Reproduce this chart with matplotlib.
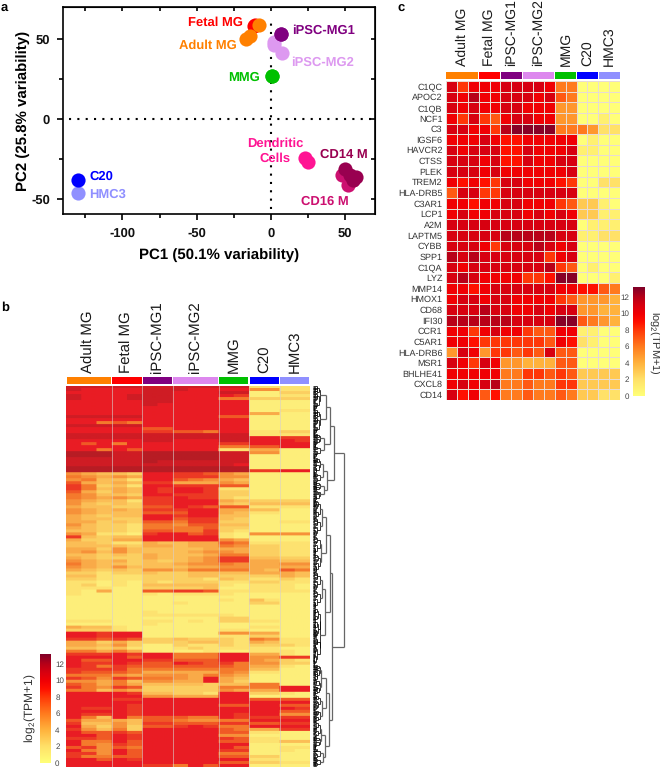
import matplotlib
matplotlib.use("Agg")
import matplotlib.pyplot as plt
import numpy as np
from matplotlib.colors import LinearSegmentedColormap
from matplotlib.collections import LineCollection

plt.rcParams['font.family'] = ['Liberation Sans', 'DejaVu Sans']
plt.rcParams['mathtext.default'] = 'regular'
plt.rcParams['text.hinting'] = 'no_hinting'
plt.rcParams['text.hinting_factor'] = 1
plt.rcParams['axes.unicode_minus'] = False

W, H = 660, 769

# ---------- data ----------
groups = ['Adult MG', 'Fetal MG', 'iPSC-MG1', 'iPSC-MG2', 'MMG', 'C20', 'HMC3']
group_sizes = [3, 2, 2, 3, 2, 2, 2]
group_colors = ['#ff8000', '#ff0000', '#800080', '#dd88ee', '#00c000', '#0000ff', '#9090ff']

pca_series = [
    ('Fetal MG', '#ff0000', [-11.5, -10.5], [58, 59]),
    ('Adult MG', '#ff8000', [-8, -14, -17], [59, 52, 50]),
    ('iPSC-MG2', '#dd99f0', [2, 2, 7.4], [48, 46, 41]),
    ('iPSC-MG1', '#800080', [6.7, 6.7], [53, 53]),
    ('MMG', '#00c000', [0.7, 0.7], [27, 27]),
    ('Dendritic', '#ff1493', [23, 24.7], [-24.6, -26.7]),
    ('CD16 M', '#cc1070', [48, 52, 55], [-35, -41, -38]),
    ('CD14 M', '#990050', [50, 57, 55, 53], [-31, -36, -38, -35]),
    ('HMC3', '#9090ff', [-130], [-46]),
    ('C20', '#0000ff', [-130], [-38]),
]
# label, colour, x, y, horizontal alignment
pca_labels = [
    ('Fetal MG', '#ff0000', -18.6, 60, 'right'),
    ('Adult MG', '#ff8000', -23, 46, 'right'),
    ('iPSC-MG1', '#800080', 14, 55.6, 'left'),
    ('iPSC-MG2', '#dd99f0', 13.5, 35, 'left'),
    ('MMG', '#00c000', -7.5, 26, 'right'),
    ('Dendritic\nCells', '#ff1493', 3, -20, 'center'),
    ('CD14 M', '#990050', 33, -22.5, 'left'),
    ('CD16 M', '#cc1070', 20, -51.7, 'left'),
    ('C20', '#0000ff', -122, -36, 'left'),
    ('HMC3', '#9090ff', -122.6, -47.5, 'left'),
]

genes_c = ['C1QC', 'APOC2', 'C1QB', 'NCF1', 'C3', 'IGSF6', 'HAVCR2', 'CTSS', 'PLEK', 'TREM2',
           'HLA-DRB5', 'C3AR1', 'LCP1', 'A2M', 'LAPTM5', 'CYBB', 'SPP1', 'C1QA', 'LYZ', 'MMP14',
           'HMOX1', 'CD68', 'IFI30', 'CCR1', 'C5AR1', 'HLA-DRB6', 'MSR1', 'BHLHE41', 'CXCL8', 'CD14']
# hex digit per cell = log2(TPM+1) rounded
values_c = [
    "b8a aa bb bba 66 00 00", "bac aa bb bab 76 00 00", "bab aa bb aaa 55 00 00",
    "a8b 87 ab baa 55 00 10", "bba a8 cd ddd 66 65 22", "aaa ba 99 aaa aa 01 00",
    "bab bb 99 baa ab 11 00", "bbb ab 99 baa bb 00 00", "bbb ab aa aaa ab 00 00",
    "a9a 98 bb aaa 98 00 22", "7bb 88 bb bbb bb 00 00", "aa9 aa bb aaa 87 33 10",
    "aba ab bb aba ba 33 11", "bbb bb bb bbb bb 01 11", "bbb bb cc ccc bb 11 22",
    "bbb a8 bb bcb ab 00 00", "cbc bb bb bb8 ab 00 00", "bab bb bb bbc 87 01 00",
    "bcb aa aa 889 dd 00 01", "aa9 ab bb bbb aa 99 76", "abb ab ba aaa 87 55 54",
    "bbb cb ba aba bb 55 44", "ccc cc cb bbb dd 76 54", "aa8 ab aa 877 aa 11 00",
    "aa9 88 88 887 a9 21 00", "5ba 58 87 87b 77 00 00", "ba8 ba 55 444 77 00 00",
    "aaa aa 66 887 87 33 33", "aba bc 66 766 88 33 33", "b9a 79 66 766 76 33 22",
]

values_b = [
    "bbb bb bb bbb bb 22 22", "baa aa bb baa aa 66 22", "aaa aa bb aaa bb 11 33",
    "baa ab bb aaa a9 11 22", "baa ab bb aaa 77 33 33", "aaa aa bb aaa aa 11 11",
    "aaa aa ba aaa aa 11 11", "aaa aa aa aaa aa 11 11", "aaa aa aa aaa aa 11 22",
    "aaa aa aa aaa aa 55 11", "bbb bb aa aaa 88 11 11", "aaa aa aa aaa aa 11 11",
    "aa7 87 aa aaa aa 11 11", "bbb bb aa aaa aa 11 11", "aaa aa 88 aaa aa 11 11",
    "aaa aa 99 887 aa 22 33", "bbb bb bb bbb bb 22 22", "bbb bb bb bbb bb aa 99",
    "aaa aa bb aaa bb aa a9", "a8a 7a aa aaa 99 aa aa", "aaa aa aa aaa 77 88 aa",
    "aa7 a8 aa aaa 22 55 11", "ccc bb cc ccc bb 66 11", "ccc bb cc ccc bb 11 11",
    "bbb bb cc ccc bb 11 11", "bbb bb cb bbb bb 11 11", "bbb bb bb bbb ba 11 11",
    "ccc cc cc ccc cc 11 11", "ccc cc cc ccc cc 99 aa",
    "654 43 aa 998 65 11 11", "765 65 aa 999 66 11 11", "674 42 aa 876 54 11 11",
    "854 54 99 555 65 11 11", "973 42 aa 999 88 11 11", "974 54 a9 aa9 22 11 11",
    "853 54 a9 aa9 33 11 11", "764 43 aa 999 33 11 11", "765 65 99 a99 32 11 11",
    "654 42 99 aaa 54 33 33", "643 43 99 aaa 43 44 44", "544 33 88 a98 88 22 22",
    "654 54 99 9aa 55 44 11", "654 44 88 8aa 54 22 11", "543 44 aa 9aa 44 11 11",
    "544 33 aa 899 43 11 11", "553 43 88 799 33 11 22", "643 32 77 688 44 11 11",
    "543 32 77 778 33 11 11", "443 32 88 779 32 11 11", "652 21 9a a89 21 66 66",
    "943 44 aa aaa 21 11 11", "533 55 aa aaa 65 11 11", "443 22 54 455 87 22 22",
    "444 43 55 455 76 33 22", "553 64 44 445 55 33 22", "564 64 44 456 65 33 22",
    "443 43 54 445 77 33 22", "543 33 54 456 99 44 33", "654 53 43 456 99 55 44",
    "754 43 44 566 76 55 66", "654 64 44 455 66 55 55", "543 43 66 577 77 54 87",
    "332 33 43 344 44 55 54", "442 22 33 344 33 33 54", "332 22 33 332 43 22 32",
    "221 21 32 333 22 33 22", "231 21 44 444 21 22 21", "222 11 33 334 11 22 21",
    "215 11 88 998 22 22 22", "211 11 21 222 21 11 11", "111 11 11 111 11 11 11",
    "111 11 11 111 21 42 11", "111 11 11 211 11 33 11", "111 11 11 111 11 11 11",
    "111 11 11 111 11 11 11", "111 11 21 111 11 11 11", "111 11 22 222 21 11 11",
    "111 11 11 111 33 11 11", "222 11 22 121 33 22 11", "111 11 21 111 11 11 11",
    "544 21 11 111 11 22 11", "333 21 11 111 22 11 11", "aa9 aa 11 111 66 55 11",
    "aa9 aa 11 111 22 33 11",
    "998 98 33 433 32 76 22", "553 53 33 344 32 54 22", "554 63 11 322 32 33 32",
    "443 42 11 232 22 22 11", "775 75 11 112 11 22 21", "999 a9 aa 777 aa 55 21",
    "aaa a8 aa 777 aa 66 99", "a88 aa 99 888 aa 65 32", "a99 a9 88 a98 97 66 33",
    "a97 98 88 888 87 55 21", "999 97 77 777 77 44 11", "988 87 55 555 76 22 11",
    "777 65 66 657 65 11 11", "986 98 77 65a 54 11 11", "665 74 66 55a 53 11 11",
    "875 75 44 443 44 77 11", "976 98 33 333 77 77 aa", "774 65 33 333 65 55 aa",
    "aaa a9 44 332 aa 33 21", "aaa aa 66 555 aa 11 11", "aaa 99 aa aaa aa 88 88",
    "aaa aa aa aaa aa aa aa", "aaa a9 aa aaa 88 aa 88", "a99 a9 aa aaa aa aa a9",
    "aaa a9 aa aaa aa aa 88", "a99 a9 aa aaa a9 aa 66", "a74 a7 88 877 a9 99 99",
    "855 54 88 766 77 aa aa", "944 64 99 888 99 88 99", "a53 63 88 9a9 77 aa aa",
    "964 73 aa aaa 87 55 99", "a88 98 aa aaa 88 22 11", "aa8 a9 aa aaa 66 11 11",
    "998 a9 aa aaa 98 22 11", "a77 a8 aa aaa 88 22 44", "a76 98 aa aaa aa 11 11",
    "896 87 aa aaa a8 11 22", "a76 a8 aa aaa 99 11 21", "996 a8 aa aaa 77 11 11",
    "977 88 aa aaa 88 33 11", "aa8 a9 aa aaa aa 22 11", "aaa aa aa aaa 88 33 22",
    "aaa aa 99 7a8 aa 11 11",
]

# row clustering of panel b: (merge height, upper child, lower child); an int is a cluster of that many rows
row_tree = (31,
            (20.5, (17, (13, 8, 8), (11, 4, 4)),
             (14, (10, 5, 3), (11, 3, 3))),
            (19, (16.5, (13, (9, 6, 6), (8, 6, 6)), (12, (9, 6, 6), (7, 10, 9))),
             (16, (13, (8, 5, 5), (9, 5, 4)), (12, (8, 5, 4), (10, 3, 3)))))


def parse(rows):
    return np.array([[int(ch, 16) for ch in r.replace(' ', '')] for r in rows], dtype=float)


def axpx(x0, y0, x1, y1, **kw):
    return fig.add_axes([x0 / W, 1 - y1 / H, (x1 - x0) / W, (y1 - y0) / H], **kw)


bar_cmap = LinearSegmentedColormap.from_list('tpm', [
    (0 / 13.2, '#ffff78'), (2 / 13.2, '#ffe068'), (4 / 13.2, '#ffb23c'), (6 / 13.2, '#ff7a1e'),
    (8 / 13.2, '#ff3808'), (9 / 13.2, '#ff1000'), (10 / 13.2, '#f00004'), (11 / 13.2, '#d80010'),
    (12 / 13.2, '#b80018'), (13.2 / 13.2, '#800028')])
heat_b_cmap = LinearSegmentedColormap.from_list('tpmb', [
    (0 / 13, '#fdf47e'), (1 / 13, '#fdee7a'), (2 / 13, '#fde270'), (3 / 13, '#fcd062'),
    (4 / 13, '#fbbe56'), (5 / 13, '#f9aa48'), (6 / 13, '#f7923a'), (7 / 13, '#f47a2c'),
    (8 / 13, '#f15a26'), (9 / 13, '#ed3a24'), (10 / 13, '#e91c24'), (11 / 13, '#d01c24'),
    (12 / 13, '#b81c24'), (13 / 13, '#a01c24')])

fig = plt.figure(figsize=(W / 100, H / 100), dpi=100)

# ---------- panel a ----------
ax = axpx(63, 7, 375, 214)
ax.set_xlim(-140, 70)
ax.set_ylim(-59.4, 70)
ax.plot([-136, 68], [0, 0], color='black', lw=1.5, ls=(0, (1, 3.0)), zorder=1)
ax.plot([0, 0], [-56, 62], color='black', lw=1.5, ls=(0, (1, 3.0)), zorder=1)
for name, col, xs, ys in pca_series:
    ax.scatter(xs, ys, s=104, color=col, linewidths=0, zorder=3)
for txt, col, x, y, ha in pca_labels:
    ax.text(x, y, txt, color=col, ha=ha, va='center', fontsize=9.5, fontweight='bold',
            linespacing=1.25, zorder=4)
ax.set_xticks([-100, -50, 0, 50])
ax.set_xticks([-125, -75, -25, 25], minor=True)
ax.set_yticks([-50, 0, 50])
ax.set_yticks([-25, 25], minor=True)
ax.tick_params(which='both', direction='out', width=1.2, bottom=True, left=True)
ax.tick_params(which='major', length=4.5, labelsize=9.6, pad=5)
ax.tick_params(which='minor', length=3)
for lab in ax.get_xticklabels() + ax.get_yticklabels():
    lab.set_fontweight('bold')
ax.tick_params(axis='both', which='both', labelcolor='#111111')
for s in ax.spines.values():
    s.set_linewidth(1.2)
ax.set_xlabel('PC1 (50.1% variability)', fontsize=10.8, fontweight='bold', labelpad=6)
ax.set_ylabel('PC2 (25.8% variability)', fontsize=10.8, fontweight='bold', labelpad=1)
twx = ax.secondary_xaxis('top')
twx.set_xticks([-100, -50, 0, 50, -125, -75, -25, 25])
twx.tick_params(direction='in', length=3, width=1.2, labelbottom=False, labeltop=False)
twy = ax.secondary_yaxis('right')
twy.set_yticks([-50, -25, 0, 25, 50])
twy.tick_params(direction='in', length=3, width=1.2, labelleft=False, labelright=False)


def strip(box):
    a = axpx(*box)
    left = 0
    for size, col in zip(group_sizes, group_colors):
        a.bar(left + size / 2, 1, width=size - 0.08, color=col, linewidth=0)
        left += size
    a.set_xlim(0, sum(group_sizes))
    a.set_ylim(0, 1)
    a.axis('off')
    return a


def group_titles(a, y_px, fs):
    left = 0
    for name, size in zip(groups, group_sizes):
        x_fig = (a.get_position().x0 + a.get_position().width * (left + size / 2) / sum(group_sizes))
        fig.text(x_fig, 1 - y_px / H, name, rotation=90, ha='center', va='bottom',
                 fontsize=fs, color='#1a1a1a')
        left += size


def colorbar(box, ticks_left=False):
    a = axpx(*box)
    lv = np.linspace(13.2, 0, 200)[:, None]
    a.imshow(lv, aspect='auto', cmap=bar_cmap, vmin=0, vmax=13.2, extent=[0, 1, 0, 13.2])
    a.set_xticks([])
    if not ticks_left:
        a.yaxis.tick_right()
    a.set_yticks([0, 2, 4, 6, 8, 10, 12])
    a.tick_params(axis='y', length=0, labelsize=5.5, labelcolor='#444444', pad=3)
    for s in a.spines.values():
        s.set_visible(False)
    return a


# ---------- panel b ----------
Mb = parse(values_b)
axb = axpx(66, 386, 310, 767)
axb.imshow(np.repeat(np.repeat(Mb, 3, axis=0), 15, axis=1), aspect='auto', cmap=heat_b_cmap,
           vmin=0, vmax=13, interpolation='bilinear', extent=[0, 16, len(values_b), 0])
for e in np.cumsum(group_sizes)[:-1]:
    axb.axvline(e, color='#d8d0cc', lw=0.6, alpha=0.7)
axb.axis('off')
sb = strip((66, 377, 310, 384))
group_titles(sb, 373, 11)
colorbar((40, 654, 51, 763))
fig.text(30 / W, 1 - 708 / H, 'log$_2$(TPM+1)', rotation=90, ha='center', va='center',
         fontsize=8.5, color='#333333')

# dendrogram of panel b, built from row_tree
axd = axpx(313, 386, 346, 767)
axd.set_xlim(0, 33)
axd.set_ylim(len(values_b), 0)
axd.axis('off')
segs_dark, segs_grey = [], []
ratios = [0.5, 0.31, 0.66, 0.42, 0.57, 0.25, 0.73]
shrink = [0.62, 0.85, 0.7, 0.9, 0.55, 0.78]
counter = [0]


def fine(lo, hi, h):
    if hi - lo < 0.3:
        segs_dark.append([(0, (lo + hi) / 2), (h, (lo + hi) / 2)])
        return (lo + hi) / 2
    counter[0] += 1
    m = lo + (hi - lo) * ratios[counter[0] % 7]
    h2 = h * shrink[counter[0] % 6]
    a = fine(lo, m, h2)
    b = fine(m, hi, h2)
    for yy in (a, b):
        segs_dark.append([(h2, yy), (h, yy)])
    segs_dark.append([(h, a), (h, b)])
    return (a + b) / 2


def walk(node, lo):
    if isinstance(node, int):
        return fine(lo, lo + node, 7), lo + node, 7
    h, u, l = node
    yu, mid, hu = walk(u, lo)
    yl, end, hl = walk(l, mid)
    store = segs_grey if h >= 8 else segs_dark
    store.extend([[(hu, yu), (h, yu)], [(hl, yl), (h, yl)], [(h, yu), (h, yl)]])
    return (yu + yl) / 2, end, h


walk(row_tree, 0)
axd.add_collection(LineCollection(segs_dark, colors='#000000', linewidths=0.55))
axd.add_collection(LineCollection(segs_grey, colors='#666666', linewidths=0.9))

# ---------- panel c ----------
Mc = parse(values_c)
axc = axpx(446, 81, 620, 400)
axc.pcolormesh(Mc[::-1], cmap=bar_cmap, vmin=0, vmax=13.2, edgecolors='#e8dcd4', linewidth=0.45)
axc.set_xlim(0, 16)
axc.set_ylim(0, 30)
axc.set_xticks([])
axc.set_yticks(np.arange(30) + 0.5)
axc.set_yticklabels(genes_c[::-1], fontsize=6.4, color='#333333')
axc.tick_params(axis='y', length=0, pad=2.5)
for s in axc.spines.values():
    s.set_visible(False)
sc = strip((446, 72, 620, 79))
group_titles(sc, 66, 9.8)
colorbar((633, 287, 645, 396), ticks_left=True)
fig.text(654 / W, 1 - 343 / H, 'log$_2$(TPM+1)', rotation=270, ha='center', va='center',
         fontsize=8, color='#333333')

# ---------- panel letters ----------
fig.text(1 / W, 1 - 8 / H, 'a', fontsize=9.5, fontweight='bold', va='center')
fig.text(1 / W, 1 - 308 / H, 'b', fontsize=9.5, fontweight='bold', va='center')
fig.text(397 / W, 1 - 8 / H, 'c', fontsize=9.5, fontweight='bold', va='center')

fig.savefig('out.png', dpi=100)
